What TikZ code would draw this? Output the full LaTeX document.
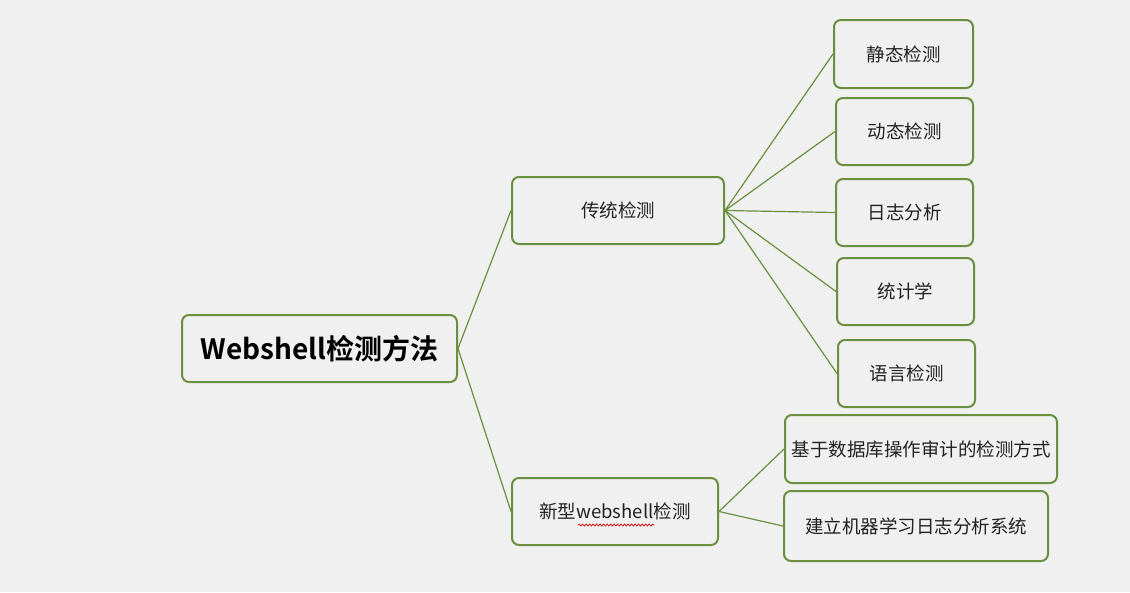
\documentclass[tikz,border=0pt]{standalone}
\usepackage{fontspec}
\setmainfont{Noto Sans CJK SC}[BoldFont={Noto Sans CJK SC Bold}]
\usetikzlibrary{decorations.pathmorphing}
\definecolor{bgGray}{HTML}{F0F0F0}
\definecolor{mapGreen}{HTML}{6A8F3E}
\definecolor{txtGray}{HTML}{222222}

\begin{document}
\begin{tikzpicture}
	[x=1pt,y=-1pt,
		base node/.style={draw=mapGreen,line width=2pt,rounded corners=7pt,fill=bgGray,
			inner sep=0pt,text=txtGray,font=\fontsize{18.5}{21}\selectfont},
		root node/.style={base node,minimum width=275pt,minimum height=67pt,text=black,
			font=\fontsize{28}{31}\selectfont\bfseries},
		link/.style={draw=mapGreen,line width=1.2pt}]

	\fill[bgGray] (0,0) rectangle (1130,592);
	\useasboundingbox (0,0) rectangle (1130,592);

	\node[root node] (root) at (319.5,348.5) {Webshell检测方法};
	\node[base node,minimum width=212pt,minimum height=67pt] (trad) at (618,210.5) {传统检测};
	\node[base node,minimum width=206pt,minimum height=67pt] (new) at (615,511.5) {新型webshell检测};

	\node[base node,minimum width=139pt,minimum height=68pt] (static)  at (903.5,54)    {静态检测};
	\node[base node,minimum width=137pt,minimum height=67pt] (dynamic) at (904.5,131.5) {动态检测};
	\node[base node,minimum width=137pt,minimum height=67pt] (logs)    at (904.5,212.5) {日志分析};
	\node[base node,minimum width=137pt,minimum height=67pt] (stats)   at (905.5,291.5) {统计学};
	\node[base node,minimum width=137pt,minimum height=67pt] (lang)    at (906.5,373.5) {语言检测};

	\node[base node,minimum width=272pt,minimum height=68pt] (audit) at (921,449) {基于数据库操作审计的检测方式};
	\node[base node,minimum width=264pt,minimum height=70pt] (ml) at (916,526) {建立机器学习日志分析系统};

	% spell-check underline under "webshell"
	\draw[red!85!black,line width=0.7pt,decorate,decoration={snake,amplitude=1pt,segment length=3.5pt}]
		(578,525) -- (654,525);

	\path[link]
	(root.east) edge (trad.west)
	(root.east) edge (new.west)
	(trad.east) edge (static.west)
	(trad.east) edge (dynamic.west)
	(trad.east) edge (logs.west)
	(trad.east) edge (stats.west)
	(trad.east) edge (lang.west)
	(new.east) edge (audit.west)
	(new.east) edge (ml.west)
	;

\end{tikzpicture}
\end{document}
